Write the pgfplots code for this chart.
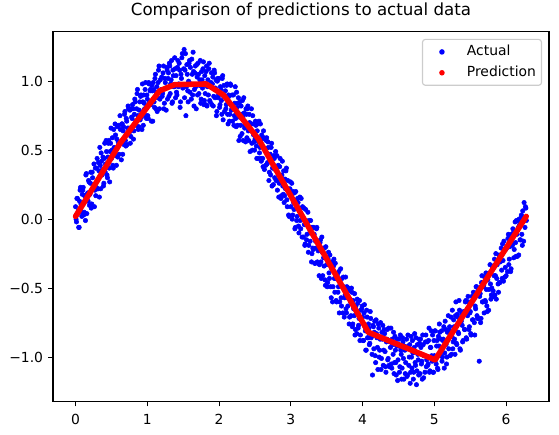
\documentclass[border=0pt]{standalone}
\usepackage{fontspec}
\setmainfont{DejaVu Sans}
\usepackage{pgfplots}
\pgfplotsset{compat=1.18}
\definecolor{legframe}{rgb}{0.8,0.8,0.8}
\begin{document}
\begin{tikzpicture}
\begin{axis}[
  at={(0,0)}, anchor=south west,
  scale only axis, width=357.1pt, height=266.1pt,
  xmin=-0.314, xmax=6.597, ymin=-1.322, ymax=1.357,
  clip marker paths=true,
  axis line style={line width=0.8pt},
  tick align=outside, major tick length=3.5pt,
  tick style={line width=0.8pt, black},
  tick pos=left,
  xtick={0,1,2,3,4,5,6}, xticklabels={0,1,2,3,4,5,6},
  ytick={-1,-0.5,0,0.5,1}, yticklabels={−1.0,−0.5,0.0,0.5,1.0},
  ticklabel style={font=\fontsize{10}{12}\selectfont, inner sep=0pt},
  xticklabel style={anchor=north, yshift=-5.5pt},
  yticklabel style={anchor=east, xshift=-3.5pt},
  title={Comparison of predictions to actual data},
  title style={font=\fontsize{12}{14.4}\selectfont, at={(0.5,1)}, anchor=base, yshift=6pt, inner sep=0pt},
  legend style={at={(1,1)}, anchor=north east, xshift=-5pt, yshift=-5pt,
    draw=legframe, line width=0.8pt, rounded corners=2pt, fill=white, fill opacity=0.8, text opacity=1,
    inner xsep=4pt, inner ysep=4pt, font=\fontsize{10}{12}\selectfont,
    cells={anchor=west}, row sep=5pt,
    nodes={inner sep=0pt, text height=7.6pt, text depth=2.4pt}},
]
\addplot[only marks, mark=*, mark size=1.6pt, blue, mark options={draw=blue, fill=blue, line width=0.4pt},
  legend image code/.code={\path[draw=none,fill=none] (0pt,0pt) -- (28pt,0pt); \path[draw=none,fill=blue,fill opacity=1] (10pt,0pt) circle (2pt);}]
coordinates {
(0,0.09)(0.0125,-0.02)(0.025,0.15)(0.0375,0.06)(0.05,-0.06)(0.0625,0.21)(0.075,0.11)(0.0875,0.02)
(0.1,0.21)(0.1125,0.03)(0.125,0.17)(0.1375,-0.01)(0.15,0.33)(0.1625,0.17)(0.175,0.13)(0.1875,0.27)
(0.2,0.18)(0.2125,0.34)(0.225,0.11)(0.2375,0.30)(0.25,0.25)(0.2625,0.09)(0.275,0.37)(0.2875,0.23)
(0.3,0.44)(0.3125,0.22)(0.325,0.35)(0.3375,0.52)(0.35,0.22)(0.3625,0.42)(0.375,0.36)(0.3875,0.24)
(0.4,0.44)(0.4125,0.34)(0.425,0.57)(0.4375,0.32)(0.45,0.45)(0.4625,0.57)(0.475,0.27)(0.4875,0.55)
(0.5,0.44)(0.5125,0.59)(0.525,0.37)(0.5375,0.52)(0.55,0.69)(0.5625,0.46)(0.575,0.58)(0.5875,0.45)
(0.6,0.68)(0.6125,0.55)(0.625,0.65)(0.6375,0.43)(0.65,0.69)(0.6625,0.64)(0.675,0.54)(0.6875,0.78)
(0.7,0.53)(0.7125,0.71)(0.725,0.66)(0.7375,0.80)(0.75,0.63)(0.7625,0.55)(0.775,0.80)(0.7875,0.73)
(0.8,0.80)(0.8125,0.64)(0.825,0.87)(0.8375,0.71)(0.85,0.80)(0.8625,0.94)(0.875,0.65)(0.8875,0.79)
(0.9,0.72)(0.9125,0.90)(0.925,0.65)(0.9375,0.85)(0.95,0.90)(0.9625,0.80)(0.975,0.99)(0.9875,0.73)
(1,0.87)(1.0125,0.73)(1.025,0.98)(1.0375,0.93)(1.05,0.83)(1.0625,0.97)(1.075,0.71)(1.0875,0.94)
(1.1,0.81)(1.1125,1.05)(1.125,0.92)(1.1375,0.78)(1.15,0.99)(1.1625,1.11)(1.175,0.87)(1.1875,0.93)
(1.2,1.03)(1.2125,0.91)(1.225,1.11)(1.2375,0.84)(1.25,0.99)(1.2625,0.79)(1.275,1.08)(1.2875,1.02)
(1.3,0.89)(1.3125,1.11)(1.325,0.98)(1.3375,1.15)(1.35,0.85)(1.3625,1.04)(1.375,0.96)(1.3875,1.09)
(1.4,1.04)(1.4125,0.90)(1.425,1.15)(1.4375,0.98)(1.45,1.08)(1.4625,0.85)(1.475,1.02)(1.4875,1.20)
(1.5,0.96)(1.5125,1.23)(1.525,1.08)(1.5375,0.75)(1.55,1.12)(1.5625,0.93)(1.575,1.00)(1.5875,1.15)
(1.6,1.10)(1.6125,0.87)(1.625,1.05)(1.6375,1.21)(1.65,0.82)(1.6625,1.06)(1.675,0.96)(1.6875,1.12)
(1.7,0.90)(1.7125,1.05)(1.725,0.97)(1.7375,1.15)(1.75,0.87)(1.7625,1.01)(1.775,1.09)(1.7875,0.83)
(1.8,1.04)(1.8125,0.83)(1.825,1.11)(1.8375,0.96)(1.85,0.90)(1.8625,1.13)(1.875,0.85)(1.8875,0.99)
(1.9,0.83)(1.9125,1.03)(1.925,0.89)(1.9375,1.06)(1.95,0.95)(1.9625,0.75)(1.975,1.00)(1.9875,0.88)
(2,1.02)(2.0125,0.83)(2.025,0.94)(2.0375,0.76)(2.05,1.04)(2.0625,0.89)(2.075,0.78)(2.0875,0.93)
(2.1,0.83)(2.1125,0.98)(2.125,0.69)(2.1375,0.89)(2.15,0.76)(2.1625,0.97)(2.175,0.82)(2.1875,0.71)
(2.2,0.90)(2.2125,0.75)(2.225,0.96)(2.2375,0.67)(2.25,0.81)(2.2625,0.84)(2.275,0.57)(2.2875,0.85)
(2.3,0.68)(2.3125,0.76)(2.325,0.86)(2.3375,0.57)(2.35,0.77)(2.3625,0.68)(2.375,0.80)(2.3875,0.59)
(2.4,0.82)(2.4125,0.57)(2.425,0.70)(2.4375,0.64)(2.45,0.80)(2.4625,0.50)(2.475,0.69)(2.4875,0.56)
(2.5,0.58)(2.5125,0.68)(2.525,0.44)(2.5375,0.69)(2.55,0.56)(2.5625,0.48)(2.575,0.69)(2.5875,0.42)
(2.6,0.58)(2.6125,0.38)(2.625,0.59)(2.6375,0.51)(2.65,0.39)(2.6625,0.59)(2.675,0.41)(2.6875,0.52)
(2.7,0.34)(2.7125,0.47)(2.725,0.52)(2.7375,0.24)(2.75,0.40)(2.7625,0.46)(2.775,0.30)(2.7875,0.49)
(2.8,0.37)(2.8125,0.21)(2.825,0.39)(2.8375,0.26)(2.85,0.44)(2.8625,0.15)(2.875,0.32)(2.8875,0.24)
(2.9,0.35)(2.9125,0.17)(2.925,0.22)(2.9375,0.37)(2.95,0.09)(2.9625,0.22)(2.975,0.02)(2.9875,0.22)
(3,0.09)(3.0125,0.26)(3.025,0.03)(3.0375,0.12)(3.05,0.19)(3.0625,-0.06)(3.075,0.12)(3.0875,0.02)
(3.1,0.12)(3.1125,-0.10)(3.125,0.16)(3.1375,-0.07)(3.15,0.03)(3.1625,0.09)(3.175,-0.13)(3.1875,-0.04)
(3.2,-0.18)(3.2125,-0.01)(3.225,-0.11)(3.2375,0.05)(3.25,-0.19)(3.2625,-0.10)(3.275,-0.01)(3.2875,-0.31)
(3.3,-0.06)(3.3125,-0.22)(3.325,-0.11)(3.3375,-0.32)(3.35,-0.21)(3.3625,-0.06)(3.375,-0.32)(3.3875,-0.20)
(3.4,-0.33)(3.4125,-0.15)(3.425,-0.43)(3.4375,-0.24)(3.45,-0.21)(3.4625,-0.34)(3.475,-0.44)(3.4875,-0.20)
(3.5,-0.33)(3.5125,-0.46)(3.525,-0.24)(3.5375,-0.43)(3.55,-0.33)(3.5625,-0.57)(3.575,-0.31)(3.5875,-0.49)
(3.6,-0.29)(3.6125,-0.53)(3.625,-0.43)(3.6375,-0.60)(3.65,-0.40)(3.6625,-0.49)(3.675,-0.68)(3.6875,-0.46)
(3.7,-0.57)(3.7125,-0.43)(3.725,-0.68)(3.7375,-0.49)(3.75,-0.57)(3.7625,-0.42)(3.775,-0.68)(3.7875,-0.57)
(3.8,-0.52)(3.8125,-0.76)(3.825,-0.58)(3.8375,-0.70)(3.85,-0.53)(3.8625,-0.76)(3.875,-0.65)(3.8875,-0.54)
(3.9,-0.80)(3.9125,-0.66)(3.925,-0.58)(3.9375,-0.79)(3.95,-0.72)(3.9625,-0.88)(3.975,-0.66)(3.9875,-0.65)
(4,-0.71)(4.0125,-0.88)(4.025,-0.62)(4.0375,-0.81)(4.05,-0.95)(4.0625,-0.71)(4.075,-0.86)(4.0875,-0.79)
(4.1,-0.90)(4.1125,-0.72)(4.125,-0.85)(4.1375,-1.13)(4.15,-0.78)(4.1625,-0.82)(4.175,-0.99)(4.1875,-0.73)
(4.2,-0.86)(4.2125,-1.09)(4.225,-0.79)(4.2375,-0.95)(4.25,-0.75)(4.2625,-1.01)(4.275,-0.87)(4.2875,-1.06)
(4.3,-0.80)(4.3125,-0.96)(4.325,-1.11)(4.3375,-0.87)(4.35,-1.02)(4.3625,-0.79)(4.375,-1.07)(4.3875,-0.93)
(4.4,-1.05)(4.4125,-0.87)(4.425,-0.98)(4.4375,-1.12)(4.45,-0.85)(4.4625,-1.04)(4.475,-0.92)(4.4875,-1.17)
(4.5,-0.92)(4.5125,-1.11)(4.525,-0.84)(4.5375,-0.98)(4.55,-1.08)(4.5625,-0.89)(4.575,-1.16)(4.5875,-0.95)
(4.6,-1.04)(4.6125,-0.87)(4.625,-1.13)(4.6375,-0.92)(4.65,-1.00)(4.6625,-1.19)(4.675,-0.85)(4.6875,-1.08)
(4.7,-0.97)(4.7125,-1.11)(4.725,-0.83)(4.7375,-1.06)(4.75,-1.20)(4.7625,-0.91)(4.775,-1.02)(4.7875,-0.87)
(4.8,-1.12)(4.8125,-0.93)(4.825,-1.03)(4.8375,-0.84)(4.85,-1.15)(4.8625,-0.99)(4.875,-0.89)(4.8875,-1.07)
(4.9,-0.89)(4.9125,-1.05)(4.925,-0.79)(4.9375,-1.10)(4.95,-0.93)(4.9625,-0.99)(4.975,-0.84)(4.9875,-1.11)
(5,-0.99)(5.0125,-0.81)(5.025,-1.05)(5.0375,-0.88)(5.05,-1.09)(5.0625,-0.92)(5.075,-0.82)(5.0875,-0.99)
(5.1,-0.81)(5.1125,-1.00)(5.125,-0.87)(5.1375,-1.08)(5.15,-0.74)(5.1625,-0.91)(5.175,-1.00)(5.1875,-0.81)
(5.2,-0.94)(5.2125,-0.78)(5.225,-0.84)(5.2375,-0.98)(5.25,-0.66)(5.2625,-0.89)(5.275,-0.78)(5.2875,-0.98)
(5.3,-0.60)(5.3125,-0.91)(5.325,-0.71)(5.3375,-0.83)(5.35,-0.66)(5.3625,-0.95)(5.375,-0.74)(5.3875,-0.77)
(5.4,-0.88)(5.4125,-0.68)(5.425,-0.80)(5.4375,-0.59)(5.45,-0.87)(5.4625,-0.70)(5.475,-0.60)(5.4875,-0.78)
(5.5,-0.67)(5.5125,-0.84)(5.525,-0.56)(5.5375,-0.73)(5.55,-0.58)(5.5625,-0.84)(5.575,-0.65)(5.5875,-0.49)
(5.6,-0.72)(5.6125,-0.51)(5.625,-1.03)(5.6375,-0.54)(5.65,-0.72)(5.6625,-0.41)(5.675,-0.60)(5.6875,-0.48)
(5.7,-0.42)(5.7125,-0.60)(5.725,-0.51)(5.7375,-0.67)(5.75,-0.41)(5.7625,-0.51)(5.775,-0.33)(5.7875,-0.58)
(5.8,-0.50)(5.8125,-0.36)(5.825,-0.56)(5.8375,-0.29)(5.85,-0.41)(5.8625,-0.58)(5.875,-0.33)(5.8875,-0.47)
(5.9,-0.26)(5.9125,-0.46)(5.925,-0.30)(5.9375,-0.37)(5.95,-0.18)(5.9625,-0.45)(5.975,-0.22)(5.9875,-0.35)
(6,-0.41)(6.0125,-0.20)(6.025,-0.14)(6.0375,-0.33)(6.05,-0.20)(6.0625,-0.38)(6.075,-0.11)(6.0875,-0.19)
(6.1,-0.10)(6.1125,-0.22)(6.125,-0.02)(6.1375,-0.27)(6.15,-0.11)(6.1625,-0.01)(6.175,-0.26)(6.1875,-0.04)
(6.2,-0.15)(6.2125,0.03)(6.225,-0.19)(6.2375,-0.01)(6.25,0.12)(6.2625,-0.06)(6.275,0.08)
(0.00625,0.00)(0.01875,0.15)(0.03125,0.04)(0.04375,-0.06)(0.05625,0.13)(0.06875,0.23)(0.08125,0.05)(0.09375,0.18)
(0.10625,0.23)(0.11875,0.05)(0.13125,0.17)(0.14375,0.32)(0.15625,0.04)(0.16875,0.19)(0.18125,0.28)(0.19375,0.10)
(0.20625,0.26)(0.21875,0.08)(0.23125,0.34)(0.24375,0.22)(0.25625,0.40)(0.26875,0.21)(0.28125,0.17)(0.29375,0.37)
(0.30625,0.22)(0.31875,0.41)(0.33125,0.16)(0.34375,0.39)(0.35625,0.48)(0.36875,0.32)(0.38125,0.45)(0.39375,0.26)
(0.40625,0.55)(0.41875,0.40)(0.43125,0.49)(0.44375,0.30)(0.45625,0.55)(0.46875,0.37)(0.48125,0.49)(0.49375,0.66)
(0.50625,0.50)(0.51875,0.39)(0.53125,0.65)(0.54375,0.47)(0.55625,0.61)(0.56875,0.39)(0.58125,0.67)(0.59375,0.56)
(0.60625,0.47)(0.61875,0.75)(0.63125,0.56)(0.64375,0.69)(0.65625,0.47)(0.66875,0.67)(0.68125,0.76)(0.69375,0.57)
(0.70625,0.73)(0.71875,0.54)(0.73125,0.82)(0.74375,0.66)(0.75625,0.79)(0.76875,0.60)(0.78125,0.74)(0.79375,0.83)
(0.80625,0.58)(0.81875,0.76)(0.83125,0.85)(0.84375,0.68)(0.85625,0.91)(0.86875,0.75)(0.88125,0.67)(0.89375,0.85)
(0.90625,0.89)(0.91875,0.74)(0.93125,0.98)(0.94375,0.68)(0.95625,0.84)(0.96875,0.94)(0.98125,0.75)(0.99375,0.90)
(1.00625,0.75)(1.01875,0.99)(1.03125,0.85)(1.04375,0.94)(1.05625,0.71)(1.06875,0.93)(1.08125,0.99)(1.09375,0.85)
(1.10625,1.02)(1.11875,0.80)(1.13125,0.96)(1.14375,0.88)(1.15625,1.08)(1.16875,0.80)(1.18125,1.01)(1.19375,0.94)
(1.20625,0.89)(1.21875,1.06)(1.23125,0.80)(1.24375,1.02)(1.25625,0.95)(1.26875,1.10)(1.28125,0.87)(1.29375,1.06)
(1.30625,1.13)(1.31875,0.91)(1.33125,1.01)(1.34375,0.84)(1.35625,1.08)(1.36875,0.96)(1.38125,1.17)(1.39375,0.88)
(1.40625,0.92)(1.41875,1.10)(1.43125,0.96)(1.44375,1.13)(1.45625,0.81)(1.46875,1.05)(1.48125,1.17)(1.49375,0.95)
(1.50625,1.09)(1.51875,0.88)(1.53125,1.20)(1.54375,0.96)(1.55625,1.05)(1.56875,0.85)(1.58125,1.13)(1.59375,0.92)
(1.60625,0.98)(1.61875,1.16)(1.63125,0.90)(1.64375,1.07)(1.65625,0.94)(1.66875,1.11)(1.68125,0.80)(1.69375,1.03)
(1.70625,1.13)(1.71875,0.91)(1.73125,1.01)(1.74375,0.84)(1.75625,1.07)(1.76875,0.95)(1.78125,1.14)(1.79375,0.86)
(1.80625,0.91)(1.81875,1.07)(1.83125,0.82)(1.84375,1.01)(1.85625,1.09)(1.86875,0.86)(1.88125,0.96)(1.89375,1.06)
(1.90625,0.98)(1.91875,0.82)(1.93125,1.08)(1.94375,0.88)(1.95625,1.01)(1.96875,0.78)(1.98125,1.02)(1.99375,0.90)
(2.00625,0.81)(2.01875,0.96)(2.03125,0.86)(2.04375,1.02)(2.05625,0.72)(2.06875,0.97)(2.08125,0.89)(2.09375,0.80)
(2.10625,0.97)(2.11875,0.76)(2.13125,0.90)(2.14375,0.71)(2.15625,0.98)(2.16875,0.79)(2.18125,0.90)(2.19375,0.81)
(2.20625,0.68)(2.21875,0.84)(2.23125,0.73)(2.24375,0.92)(2.25625,0.68)(2.26875,0.88)(2.28125,0.74)(2.29375,0.60)
(2.30625,0.82)(2.31875,0.62)(2.33125,0.74)(2.34375,0.88)(2.35625,0.66)(2.36875,0.56)(2.38125,0.76)(2.39375,0.80)
(2.40625,0.64)(2.41875,0.76)(2.43125,0.49)(2.44375,0.69)(2.45625,0.55)(2.46875,0.75)(2.48125,0.61)(2.49375,0.50)
(2.50625,0.71)(2.51875,0.53)(2.53125,0.64)(2.54375,0.44)(2.55625,0.71)(2.56875,0.52)(2.58125,0.44)(2.59375,0.61)
(2.60625,0.44)(2.61875,0.64)(2.63125,0.36)(2.64375,0.51)(2.65625,0.57)(2.66875,0.40)(2.68125,0.56)(2.69375,0.28)
(2.70625,0.47)(2.71875,0.32)(2.73125,0.55)(2.74375,0.37)(2.75625,0.25)(2.76875,0.44)(2.78125,0.36)(2.79375,0.28)
(2.80625,0.46)(2.81875,0.28)(2.83125,0.16)(2.84375,0.38)(2.85625,0.30)(2.86875,0.17)(2.88125,0.42)(2.89375,0.18)
(2.90625,0.12)(2.91875,0.29)(2.93125,0.35)(2.94375,0.14)(2.95625,0.28)(2.96875,0.03)(2.98125,0.19)(2.99375,0.27)
(3.00625,0.17)(3.01875,0.00)(3.03125,0.20)(3.04375,0.07)(3.05625,-0.07)(3.06875,0.20)(3.08125,-0.01)(3.09375,0.15)
(3.10625,-0.05)(3.11875,0.08)(3.13125,-0.01)(3.14375,0.15)(3.15625,-0.13)(3.16875,0.00)(3.18125,0.08)(3.19375,-0.19)
(3.20625,0.07)(3.21875,-0.15)(3.23125,-0.04)(3.24375,-0.24)(3.25625,-0.01)(3.26875,-0.16)(3.28125,-0.06)(3.29375,-0.25)
(3.30625,-0.21)(3.31875,-0.06)(3.33125,-0.32)(3.34375,-0.16)(3.35625,-0.07)(3.36875,-0.31)(3.38125,-0.23)(3.39375,-0.41)
(3.40625,-0.17)(3.41875,-0.31)(3.43125,-0.13)(3.44375,-0.41)(3.45625,-0.28)(3.46875,-0.21)(3.48125,-0.48)(3.49375,-0.28)
(3.50625,-0.49)(3.51875,-0.29)(3.53125,-0.39)(3.54375,-0.26)(3.55625,-0.49)(3.56875,-0.36)(3.58125,-0.60)(3.59375,-0.34)
(3.60625,-0.43)(3.61875,-0.32)(3.63125,-0.59)(3.64375,-0.42)(3.65625,-0.53)(3.66875,-0.38)(3.68125,-0.60)(3.69375,-0.36)
(3.70625,-0.63)(3.71875,-0.49)(3.73125,-0.42)(3.74375,-0.71)(3.75625,-0.55)(3.76875,-0.65)(3.78125,-0.49)(3.79375,-0.63)
(3.80625,-0.50)(3.81875,-0.71)(3.83125,-0.60)(3.84375,-0.50)(3.85625,-0.78)(3.86875,-0.59)(3.88125,-0.70)(3.89375,-0.84)
(3.90625,-0.63)(3.91875,-0.83)(3.93125,-0.61)(3.94375,-0.77)(3.95625,-0.59)(3.96875,-0.84)(3.98125,-0.72)(3.99375,-0.63)
(4.00625,-0.88)(4.01875,-0.68)(4.03125,-0.78)(4.04375,-0.95)(4.05625,-0.66)(4.06875,-0.86)(4.08125,-0.76)(4.09375,-0.91)
(4.10625,-0.67)(4.11875,-0.86)(4.13125,-0.98)(4.14375,-0.77)(4.15625,-0.94)(4.16875,-0.74)(4.18125,-1.04)(4.19375,-0.83)
(4.20625,-0.93)(4.21875,-0.76)(4.23125,-1.00)(4.24375,-0.87)(4.25625,-1.09)(4.26875,-0.82)(4.28125,-0.77)(4.29375,-0.95)
(4.30625,-0.83)(4.31875,-1.07)(4.33125,-0.89)(4.34375,-0.80)(4.35625,-1.01)(4.36875,-1.06)(4.38125,-0.89)(4.39375,-0.79)
(4.40625,-1.08)(4.41875,-0.91)(4.43125,-0.82)(4.44375,-1.04)(4.45625,-0.95)(4.46875,-1.13)(4.48125,-0.87)(4.49375,-1.02)
(4.50625,-0.87)(4.51875,-1.07)(4.53125,-0.95)(4.54375,-1.16)(4.55625,-0.86)(4.56875,-1.01)(4.58125,-0.92)(4.59375,-1.12)
(4.60625,-0.94)(4.61875,-1.14)(4.63125,-0.84)(4.64375,-1.06)(4.65625,-0.91)(4.66875,-1.11)(4.68125,-1.00)(4.69375,-0.88)
(4.70625,-1.16)(4.71875,-0.93)(4.73125,-1.04)(4.74375,-0.86)(4.75625,-1.10)(4.76875,-0.98)(4.78125,-1.13)(4.79375,-0.90)
(4.80625,-0.87)(4.81875,-1.05)(4.83125,-1.16)(4.84375,-0.91)(4.85625,-0.99)(4.86875,-1.11)(4.88125,-0.84)(4.89375,-1.02)
(4.90625,-1.06)(4.91875,-0.88)(4.93125,-1.11)(4.94375,-0.93)(4.95625,-0.81)(4.96875,-1.03)(4.98125,-1.11)(4.99375,-0.88)
(5.00625,-0.81)(5.01875,-1.02)(5.03125,-0.92)(5.04375,-1.08)(5.05625,-0.85)(5.06875,-0.76)(5.08125,-0.97)(5.09375,-0.87)
(5.10625,-1.03)(5.11875,-0.88)(5.13125,-0.78)(5.14375,-0.97)(5.15625,-0.80)(5.16875,-1.05)(5.18125,-0.82)(5.19375,-0.70)
(5.20625,-0.80)(5.21875,-0.99)(5.23125,-0.71)(5.24375,-0.85)(5.25625,-0.94)(5.26875,-0.73)(5.28125,-0.87)(5.29375,-0.70)
(5.30625,-0.90)(5.31875,-0.69)(5.33125,-0.82)(5.34375,-0.59)(5.35625,-0.94)(5.36875,-0.73)(5.38125,-0.68)(5.39375,-0.89)
(5.40625,-0.67)(5.41875,-0.80)(5.43125,-0.60)(5.44375,-0.86)(5.45625,-0.69)(5.46875,-0.56)(5.48125,-0.80)(5.49375,-0.68)
(5.50625,-0.83)(5.51875,-0.61)(5.53125,-0.73)(5.54375,-0.53)(5.55625,-0.75)(5.56875,-0.63)(5.58125,-0.49)(5.59375,-0.70)
(5.60625,-0.52)(5.61875,-0.72)(5.63125,-0.56)(5.64375,-0.75)(5.65625,-0.46)(5.66875,-0.60)(5.68125,-0.49)(5.69375,-0.68)
(5.70625,-0.59)(5.71875,-0.39)(5.73125,-0.63)(5.74375,-0.44)(5.75625,-0.66)(5.76875,-0.39)(5.78125,-0.47)(5.79375,-0.55)
(5.80625,-0.34)(5.81875,-0.52)(5.83125,-0.41)(5.84375,-0.55)(5.85625,-0.25)(5.86875,-0.43)(5.88125,-0.30)(5.89375,-0.53)
(5.90625,-0.46)(5.91875,-0.31)(5.93125,-0.21)(5.94375,-0.43)(5.95625,-0.30)(5.96875,-0.16)(5.98125,-0.42)(5.99375,-0.22)
(6.00625,-0.21)(6.01875,-0.38)(6.03125,-0.11)(6.04375,-0.29)(6.05625,-0.13)(6.06875,-0.36)(6.08125,-0.17)(6.09375,-0.07)
(6.10625,-0.28)(6.11875,-0.09)(6.13125,-0.17)(6.14375,-0.01)(6.15625,-0.27)(6.16875,-0.06)(6.18125,0.00)(6.19375,-0.15)
(6.20625,0.01)(6.21875,-0.11)(6.23125,0.06)(6.24375,-0.16)(6.25625,0.01)(6.26875,0.09)(6.28125,-0.01)
};
\addlegendentry{Actual}
\addplot[red, line width=4pt, line cap=round, line join=round, mark=none,
  legend image code/.code={\path[draw=none,fill=none] (0pt,0pt) -- (28pt,0pt); \path[draw=none,fill=red,fill opacity=1] (10pt,0pt) circle (2pt);}]
coordinates {
(0,0.02)(0.62,0.55)(1.17,0.93)(1.38,0.975)(1.82,0.98)(2.06,0.90)(2.55,0.58)(4.08,-0.82)(5.01,-1.02)(6.28,0.02)
};
\addlegendentry{Prediction}
\end{axis}
\pgfresetboundingbox
\path (-38.2pt,-24.0pt) rectangle (364.3pt,289.1pt);
\end{tikzpicture}
\end{document}
